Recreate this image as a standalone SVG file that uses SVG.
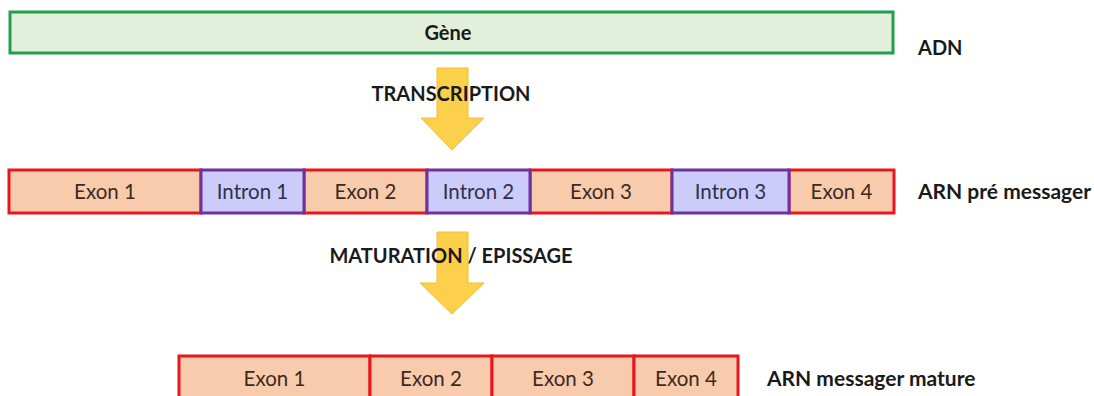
<svg xmlns="http://www.w3.org/2000/svg" width="1094" height="396" viewBox="0 0 1094 396">
<style>
.exon{fill:#f8cbad;stroke:#e8161e;stroke-width:3}
.intron{fill:#ccccfa;stroke:#7030a0;stroke-width:3}
.gene{fill:#e2efda;stroke:#1fa04e;stroke-width:3}
.seg{font-family:Lato,"Liberation Sans",sans-serif;font-size:20.5px;text-anchor:middle}
.et{fill:#3d2a1c}
.it{fill:#30304a}
.lbl{font-family:Lato,"Liberation Sans",sans-serif;font-size:20px;font-weight:bold;fill:#1a1a1a}
.big{font-size:21px}
.arrow{fill:#fcd04a;stroke:#f4bd2e;stroke-width:1}
</style>
<rect width="1094" height="396" fill="#ffffff"/>
<g id="connectors">
<polygon class="arrow" points="437,68 468,68 468,118 484,118 452,150 421,118 437,118"/>
<polygon class="arrow" points="437,232 468,232 468,283 484,283 452,314 420,283 437,283"/>
</g>
<g id="gene">
<rect class="gene" x="10" y="12" width="883" height="41"/>
<text class="lbl" x="448" y="40" text-anchor="middle">Gène</text>
</g>
<g id="label-adn"><text class="lbl" x="918" y="55">ADN</text></g>
<g id="label-transcription"><text class="lbl" x="451" y="101" text-anchor="middle">TRANSCRIPTION</text></g>
<g id="exon1"><rect class="exon" x="9" y="170" width="192" height="43"/><text class="seg et" x="105" y="199">Exon 1</text></g>
<g id="exon2"><rect class="exon" x="304" y="170" width="123" height="43"/><text class="seg et" x="365.5" y="199">Exon 2</text></g>
<g id="exon3"><rect class="exon" x="530" y="170" width="142" height="43"/><text class="seg et" x="601" y="199">Exon 3</text></g>
<g id="exon4"><rect class="exon" x="789" y="170" width="105" height="43"/><text class="seg et" x="841.5" y="199">Exon 4</text></g>
<g id="intron1"><rect class="intron" x="201" y="170" width="103" height="43"/><text class="seg it" x="252.5" y="199">Intron 1</text></g>
<g id="intron2"><rect class="intron" x="427" y="170" width="103" height="43"/><text class="seg it" x="478.5" y="199">Intron 2</text></g>
<g id="intron3"><rect class="intron" x="672" y="170" width="117" height="43"/><text class="seg it" x="730.5" y="199">Intron 3</text></g>
<g id="label-pre"><text class="lbl big" x="918" y="199">ARN pré messager</text></g>
<g id="label-maturation"><text class="lbl" x="451" y="263" text-anchor="middle">MATURATION / EPISSAGE</text></g>
<g id="m-exon1"><rect class="exon" x="179" y="356" width="191" height="46"/><text class="seg et" x="274.5" y="386">Exon 1</text></g>
<g id="m-exon2"><rect class="exon" x="370" y="356" width="122" height="46"/><text class="seg et" x="431" y="386">Exon 2</text></g>
<g id="m-exon3"><rect class="exon" x="492" y="356" width="142" height="46"/><text class="seg et" x="563" y="386">Exon 3</text></g>
<g id="m-exon4"><rect class="exon" x="634" y="356" width="104" height="46"/><text class="seg et" x="686" y="386">Exon 4</text></g>
<g id="label-mature"><text class="lbl big" x="767" y="386">ARN messager mature</text></g>
</svg>
